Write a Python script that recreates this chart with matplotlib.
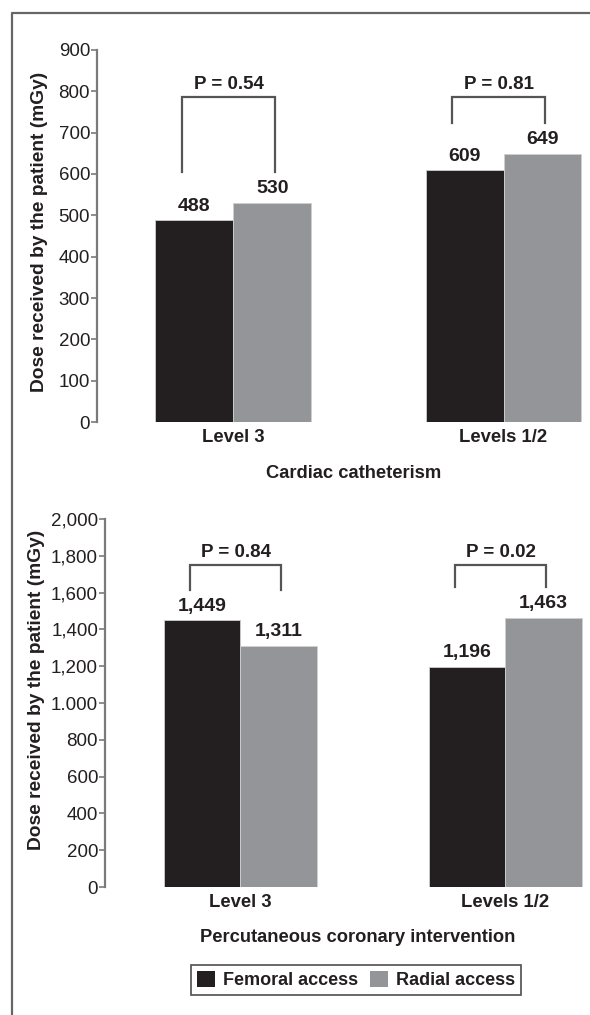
# Radiation dose received by the patient, femoral vs radial access
# two panels: cardiac catheterism and PCI

import matplotlib.pyplot as plt
from matplotlib.patches import Patch
from matplotlib.lines import Line2D

plt.rcParams["font.family"] = ["Liberation Sans", "DejaVu Sans"]

levels = ["Level 3", "Levels 1/2"]

cath_femoral = [488, 609]
cath_radial = [530, 649]
cath_pvalues = ["P = 0.54", "P = 0.81"]
cath_ticks = [0, 100, 200, 300, 400, 500, 600, 700, 800, 900]
cath_tick_labels = ["0", "100", "200", "300", "400", "500", "600", "700", "800", "900"]

pci_femoral = [1449, 1196]
pci_radial = [1311, 1463]
pci_pvalues = ["P = 0.84", "P = 0.02"]
pci_ticks = [0, 200, 400, 600, 800, 1000, 1200, 1400, 1600, 1800, 2000]
pci_tick_labels = ["0", "200", "400", "600", "800", "1.000", "1,200",
                   "1,400", "1,600", "1,800", "2,000"]

FEMORAL_COLOR = "#231f20"
RADIAL_COLOR = "#939598"
AXIS_COLOR = "#7a7a7a"
TEXT_COLOR = "#231f20"


def draw_panel(ax, femoral, radial, pvalues, ticks, tick_labels, xlabel,
               bracket_top, leg_gap, xleft):
    x = [0, 1]
    w = 0.288
    ax.bar([i - w / 2 for i in x], femoral, width=w, color=FEMORAL_COLOR,
           edgecolor="#cfcfcf", linewidth=0.6)
    ax.bar([i + w / 2 for i in x], radial, width=w, color=RADIAL_COLOR,
           edgecolor="#cfcfcf", linewidth=0.6)

    # value labels
    for i in x:
        for xx, v in [(i - w / 2, femoral[i]), (i + w / 2, radial[i])]:
            ax.annotate(f"{v:,}", (xx, v), xytext=(0, 4),
                        textcoords="offset points", ha="center", va="bottom",
                        fontsize=14, fontweight="bold", color=TEXT_COLOR)

    # significance brackets
    for i in x:
        low = max(femoral[i], radial[i]) + leg_gap
        bx0 = i - 0.19
        bx1 = i + 0.155
        ax.plot([bx0, bx0, bx1, bx1], [low, bracket_top, bracket_top, low],
                color="#555555", lw=1.6, clip_on=False,
                solid_joinstyle="miter")
        ax.annotate(pvalues[i], ((bx0 + bx1) / 2, bracket_top), xytext=(0, 3),
                    textcoords="offset points", ha="center", va="bottom",
                    fontsize=13.5, fontweight="bold", color=TEXT_COLOR)

    ax.set_xlim(xleft, 1.32)
    ax.set_ylim(0, ticks[-1])
    ax.set_yticks(ticks)
    ax.set_yticklabels(tick_labels, fontsize=13.5, color=TEXT_COLOR)
    ax.set_xticks(x)
    ax.set_xticklabels(levels, fontsize=13.3, fontweight="bold", color=TEXT_COLOR)
    ax.tick_params(axis="x", length=0, pad=5)
    ax.tick_params(axis="y", length=4, width=1.2, color=AXIS_COLOR, pad=1)

    for s in ["top", "right", "bottom"]:
        ax.spines[s].set_visible(False)
    ax.spines["left"].set_color(AXIS_COLOR)
    ax.spines["left"].set_linewidth(1.6)

    ax.set_xlabel(xlabel, fontsize=13.2, fontweight="bold", color=TEXT_COLOR)
    ax.xaxis.set_label_coords(0.52, -0.115)


def main():
    fig = plt.figure(figsize=(5.9, 10.15), dpi=100)

    ax1 = fig.add_axes([97 / 590, 1 - 422 / 1015, 493 / 590, 372 / 1015])
    ax2 = fig.add_axes([105 / 590, 1 - 887 / 1015, 485 / 590, 368 / 1015])

    draw_panel(ax1, cath_femoral, cath_radial, cath_pvalues, cath_ticks,
               cath_tick_labels, "Cardiac catheterism", 787, 75, -0.504)
    draw_panel(ax2, pci_femoral, pci_radial, pci_pvalues, pci_ticks,
               pci_tick_labels, "Percutaneous coronary intervention",
               1750, 165, -0.511)

    fig.text(40 / 590, 1 - 232 / 1015, "Dose received by the patient (mGy)",
             rotation=90, ha="center", va="center", fontsize=13.8,
             fontweight="bold", color=TEXT_COLOR)
    fig.text(37 / 590, 1 - 690 / 1015, "Dose received by the patient (mGy)",
             rotation=90, ha="center", va="center", fontsize=13.8,
             fontweight="bold", color=TEXT_COLOR)

    # outer frame (left and top only)
    fig.add_artist(Line2D([12 / 590, 12 / 590, 1.0],
                          [0.0, 1 - 13 / 1015, 1 - 13 / 1015],
                          transform=fig.transFigure, color="#666666", lw=1.6))

    handles = [Patch(facecolor=FEMORAL_COLOR, label="Femoral access"),
               Patch(facecolor=RADIAL_COLOR, label="Radial access")]
    leg = fig.legend(handles=handles, loc="center",
                     bbox_to_anchor=(356 / 590, 1 - 980 / 1015), ncol=2,
                     frameon=True, fancybox=False, handlelength=1.0,
                     handleheight=1.0, handletextpad=0.4, columnspacing=0.7,
                     borderpad=0.35, prop={"size": 13, "weight": "bold"})
    leg.get_frame().set_edgecolor("#231f20")
    leg.get_frame().set_linewidth(1.2)
    for t in leg.get_texts():
        t.set_color(TEXT_COLOR)

    fig.savefig("out.png", dpi=100, facecolor="white")
    plt.close(fig)


if __name__ == "__main__":
    main()
